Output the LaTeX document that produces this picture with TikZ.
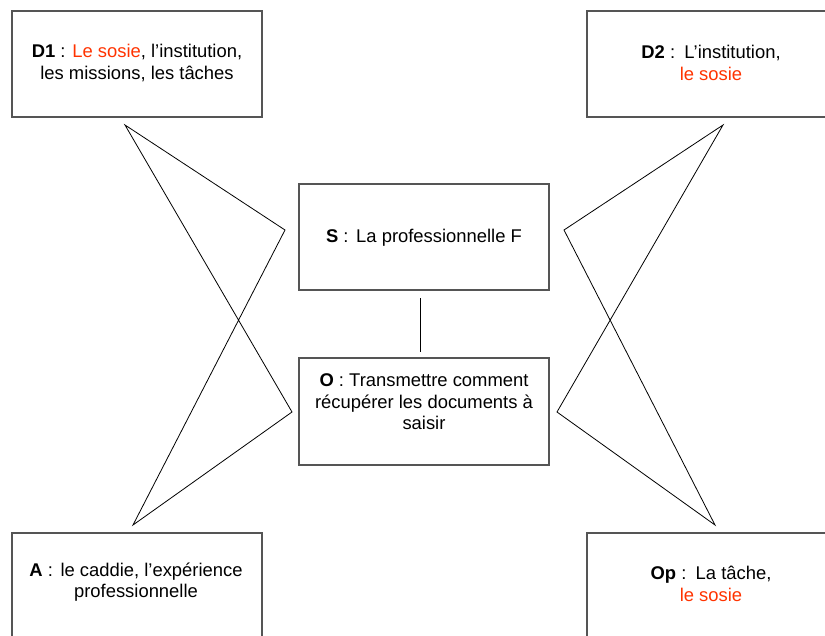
\documentclass[tikz,border=0pt]{standalone}
\usepackage{fontspec}
\setmainfont{Liberation Sans}
\definecolor{sosie}{RGB}{255,51,0}
\definecolor{frame}{RGB}{85,85,85}
\newcommand{\wsp}{\hspace{2.5pt} }
\begin{document}
\begin{tikzpicture}[x=1pt,y=-1pt,
  box/.style={draw=frame,line width=1.1pt,minimum width=250pt,minimum height=106pt,inner sep=0pt},
  txt/.style={align=center,font=\fontsize{18.4}{21.5}\selectfont,inner sep=0pt},
  link/.style={draw=black,line width=0.8pt,line join=miter}]
\useasboundingbox (0,0) rectangle (825,635);
\clip (0,0) rectangle (825,635);
\fill[white] (0,0) rectangle (825,635);

% boxes
\node[box] (D1) at (137,64) {};
\node[box] (D2) at (712,64) {};
\node[box] (S)  at (424,237) {};
\node[box,minimum height=107pt] (O) at (424,411.5) {};
\node[box] (A)  at (137,586) {};
\node[box] (Op) at (712,586) {};

% texts
\node[txt] (D1t) at (137,63) {\textbf{D1} : \textcolor{sosie}{Le sosie}, l’institution,\\les missions, les tâches};
\node[txt] (D2t) at (711,63) {\textbf{D2} :\wsp L’institution,\\\textcolor{sosie}{le sosie}};
\node[txt] (St)  at (424,238) {\textbf{S} :\wsp La professionnelle F};
\node[txt] (Ot)  at (424,402) {\textbf{O} : Transmettre comment\\récupérer les documents à\\saisir};
\node[txt] (At)  at (136,582) {\textbf{A} :\wsp le caddie, l’expérience\\professionnelle};
\node[txt] (Opt) at (711,584) {\textbf{Op} :\wsp La tâche,\\\textcolor{sosie}{le sosie}};

% link between subject and object
\coordinate (s1) at (420,298);
\coordinate (o1) at (420,352);
\draw[link] (s1) -- (o1);

% left crossing connectors
\coordinate (L1) at (125,125);
\coordinate (L2) at (285,230);
\coordinate (L3) at (292,412);
\coordinate (L4) at (133,525);
\draw[link] (L1) -- (L2) -- (L4) -- (L3) -- cycle;

% right crossing connectors
\coordinate (R1) at (723,125);
\coordinate (R2) at (564,230);
\coordinate (R3) at (557,412);
\coordinate (R4) at (715,525);
\draw[link] (R1) -- (R2) -- (R4) -- (R3) -- cycle;
\end{tikzpicture}
\end{document}
